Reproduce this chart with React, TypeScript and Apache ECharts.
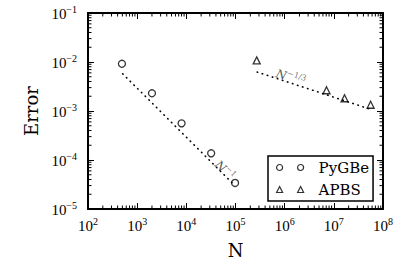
import React, { useEffect, useRef } from "react";
import * as echarts from "echarts";

const X_MIN = 1e2;
const X_MAX = 1e8;
const Y_MIN = 1e-5;
const Y_MAX = 1e-1;

const pygbeN = [490, 2000, 8000, 32000, 98000];
const pygbeErr = [9.2e-3, 2.3e-3, 5.6e-4, 1.37e-4, 3.4e-5];
const apbsN = [2.7e5, 7.1e6, 1.65e7, 5.6e7];
const apbsErr = [1.08e-2, 2.65e-3, 1.82e-3, 1.34e-3];

const pygbeFitN = [507, 84500];
const pygbeFitErr = [5.76e-3, 3.46e-5];
const apbsFitN = [2.76e5, 5.83e7];
const apbsFitErr = [6.25e-3, 1.07e-3];

const slopeLabelPos = [
  { name: "N^-1", at: [62000, 6.3e-5], text: "{n|N}{s|−1}", rotate: -45 },
  { name: "N^-1/3", at: [1.34e6, 4.94e-3], text: "{n|N}{s|−1/3}", rotate: -18 },
];

const decadesX = [2, 3, 4, 5, 6, 7];
const decadesY = [-5, -4, -3, -2];
const mults = [2, 3, 4, 5, 6, 7, 8, 9];
const xMinor: number[] = [];
decadesX.forEach((k) => mults.forEach((m) => xMinor.push(m * Math.pow(10, k))));
const yMinor: number[] = [];
decadesY.forEach((k) => mults.forEach((m) => yMinor.push(m * Math.pow(10, k))));

const SERIF = "DejaVu Serif";
const TICKFONT = "Liberation Serif";

const tickRich = {
  b: { fontSize: 15, lineHeight: 17, fontFamily: TICKFONT, color: "#000", verticalAlign: "bottom" },
  s: { fontSize: 10, lineHeight: 10, fontFamily: TICKFONT, color: "#000", verticalAlign: "top" },
};
const fmtPow = (v: number) => {
  const e = Math.round(Math.log10(v));
  return `{b|10}{s|${e < 0 ? "−" + -e : e}}`;
};

const baseAxis = {
  type: "log",
  logBase: 10,
  splitLine: { show: false },
  axisLine: { show: true, onZero: false, lineStyle: { color: "#000", width: 2 } },
  axisTick: { show: true, inside: true, length: 6, lineStyle: { color: "#000", width: 1 } },
  minorTick: { show: false },
};

export default function App() {
  const ref = useRef<HTMLDivElement>(null);
  useEffect(() => {
    if (!ref.current) return;
    const chart = echarts.init(ref.current, null, { renderer: "svg" });
    const tickLine = (x1: number, y1: number, x2: number, y2: number) => ({
      type: "line",
      shape: { x1, y1, x2, y2 },
      style: { stroke: "#000", lineWidth: 1 },
    });
    chart.setOption({
      animation: false,
      backgroundColor: "#fff",
      grid: { left: 88, right: 16, top: 13, bottom: 57 },
      legend: {
        orient: "vertical",
        left: 268,
        top: 156,
        padding: [4, 4, 4, 8],
        itemGap: 7,
        itemWidth: 27,
        itemHeight: 6,
        borderColor: "#000",
        borderWidth: 1.5,
        borderRadius: 0,
        backgroundColor: "#fff",
        textStyle: { fontFamily: SERIF, fontSize: 15, color: "#000", padding: [0, 0, 0, 10] },
        data: [
          {
            name: "PyGBe",
            icon: "path://M0,3 A3,3 0 1,1 6,3 A3,3 0 1,1 0,3 Z M21,3 A3,3 0 1,1 27,3 A3,3 0 1,1 21,3 Z",
            itemStyle: { color: "#fff", borderColor: "#000", borderWidth: 1.2 },
          },
          {
            name: "APBS",
            icon: "path://M3,0 L6,6 L0,6 Z M24,0 L27,6 L21,6 Z",
            itemStyle: { color: "#fff", borderColor: "#000", borderWidth: 1.2 },
          },
        ],
      },
      xAxis: [
        {
          ...baseAxis,
          position: "bottom",
          min: X_MIN,
          max: X_MAX,
          name: "N",
          nameLocation: "middle",
          nameGap: 32,
          nameTextStyle: { fontFamily: SERIF, fontSize: 18, color: "#000" },
          axisLabel: { margin: 7, formatter: fmtPow, rich: tickRich },
        },
        {
          ...baseAxis,
          position: "top",
          min: X_MIN,
          max: X_MAX,
          axisLabel: { show: false },
        },
      ],
      yAxis: [
        {
          ...baseAxis,
          position: "left",
          min: Y_MIN,
          max: Y_MAX,
          name: "Error",
          nameLocation: "middle",
          nameGap: 45,
          nameTextStyle: { fontFamily: SERIF, fontSize: 18, color: "#000" },
          axisLabel: { margin: 11, formatter: fmtPow, rich: tickRich },
        },
        {
          ...baseAxis,
          position: "right",
          min: Y_MIN,
          max: Y_MAX,
          axisLabel: { show: false },
        },
      ],
      series: [
        {
          type: "custom",
          silent: true,
          clip: false,
          xAxisIndex: 0,
          yAxisIndex: 0,
          data: xMinor.map((v) => [v, Y_MIN]),
          renderItem: (_p: any, api: any) => {
            const v = api.value(0);
            const b = api.coord([v, Y_MIN]);
            const t = api.coord([v, Y_MAX]);
            return {
              type: "group",
              children: [tickLine(b[0], b[1], b[0], b[1] - 3.5), tickLine(t[0], t[1], t[0], t[1] + 3.5)],
            };
          },
        },
        {
          type: "custom",
          silent: true,
          clip: false,
          xAxisIndex: 0,
          yAxisIndex: 0,
          data: yMinor.map((v) => [X_MIN, v]),
          renderItem: (_p: any, api: any) => {
            const v = api.value(1);
            const l = api.coord([X_MIN, v]);
            const r = api.coord([X_MAX, v]);
            return {
              type: "group",
              children: [tickLine(l[0], l[1], l[0] + 3.5, l[1]), tickLine(r[0], r[1], r[0] - 3.5, r[1])],
            };
          },
        },
        {
          type: "line",
          name: "pygbeFit",
          silent: true,
          showSymbol: false,
          symbol: "none",
          data: pygbeFitN.map((n, i) => [n, pygbeFitErr[i]]),
          lineStyle: { color: "#000", width: 1.6, type: [0.5, 4.8], cap: "round" },
        },
        {
          type: "line",
          name: "apbsFit",
          silent: true,
          showSymbol: false,
          symbol: "none",
          data: apbsFitN.map((n, i) => [n, apbsFitErr[i]]),
          lineStyle: { color: "#000", width: 1.6, type: [0.5, 4.8], cap: "round" },
        },
        {
          type: "scatter",
          name: "PyGBe",
          symbol: "circle",
          symbolSize: 7,
          itemStyle: { color: "#fff", borderColor: "#000", borderWidth: 1.3 },
          data: pygbeN.map((n, i) => [n, pygbeErr[i]]),
        },
        {
          type: "scatter",
          name: "APBS",
          symbol: "triangle",
          symbolSize: 7,
          itemStyle: { color: "#fff", borderColor: "#000", borderWidth: 1.3 },
          data: apbsN.map((n, i) => [n, apbsErr[i]]),
        },
        ...slopeLabelPos.map((s) => ({
          type: "scatter",
          name: s.name,
          silent: true,
          symbolSize: 0,
          data: [s.at],
          label: {
            show: true,
            position: "inside",
            rotate: s.rotate,
            formatter: s.text,
            rich: {
              n: { fontFamily: SERIF, fontStyle: "italic", fontSize: 12, color: "#333", lineHeight: 14, verticalAlign: "bottom" },
              s: { fontFamily: SERIF, fontSize: 8, color: "#555", lineHeight: 8, verticalAlign: "top" },
            },
          },
        })),
      ],
    });
    return () => chart.dispose();
  }, []);
  return <div ref={ref} style={{ position: "fixed", left: 0, top: 0, width: 399, height: 266 }} />;
}
